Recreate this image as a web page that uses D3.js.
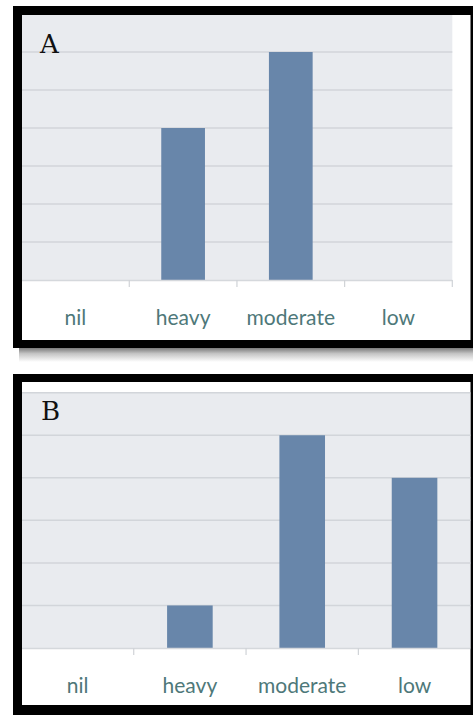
<!DOCTYPE html>
<html>
<head>
<meta charset="utf-8">
<script src="https://cdn.jsdelivr.net/npm/d3@7"></script>
<style>
  html, body { margin: 0; padding: 0; background: #ffffff; }
  svg { display: block; }
</style>
</head>
<body>
<svg id="chart" width="473" height="715"></svg>
<script>
// ---- data ----
const categories = ["nil", "heavy", "moderate", "low"];
const valuesA = [0, 4, 6, 0];
const valuesB = [0, 1, 5, 4];
const panelLabels = ["A", "B"];
const yMaxA = 7;
const yMaxB = 6;

const svg = d3.select("#chart");

const defs = svg.append("defs");
const grad = defs.append("linearGradient").attr("id", "shadow").attr("x1", 0).attr("y1", 0).attr("x2", 0).attr("y2", 1);
grad.append("stop").attr("offset", "0%").attr("stop-color", "#7a7a7a");
grad.append("stop").attr("offset", "40%").attr("stop-color", "#c4c4c4");
grad.append("stop").attr("offset", "100%").attr("stop-color", "#ffffff");

function panel(cfg) {
  const g = svg.append("g");
  // shadow
  if (cfg.shadow) {
    g.append("rect").attr("x", cfg.outer.x + 6).attr("y", cfg.outer.y + cfg.outer.h)
      .attr("width", cfg.outer.w - 6).attr("height", 14).attr("fill", "url(#shadow)");
  }
  // black frame
  g.append("rect").attr("x", cfg.outer.x).attr("y", cfg.outer.y)
    .attr("width", cfg.outer.w).attr("height", cfg.outer.h).attr("fill", "#000");
  g.append("rect").attr("x", cfg.inner.x).attr("y", cfg.inner.y)
    .attr("width", cfg.inner.w).attr("height", cfg.inner.h).attr("fill", "#fff");

  const clipId = "clip" + cfg.label;
  defs.append("clipPath").attr("id", clipId).append("rect")
    .attr("x", cfg.inner.x).attr("y", cfg.inner.y).attr("width", cfg.inner.w).attr("height", cfg.inner.h);
  const c = g.append("g").attr("clip-path", `url(#${clipId})`);

  const x = d3.scaleBand().domain(categories).range([cfg.x0, cfg.x1]).paddingInner(0.594).paddingOuter(0.297);
  const y = d3.scaleLinear().domain([0, cfg.yMax]).range([cfg.base, cfg.top]);

  // plot background
  c.append("rect").attr("x", cfg.x0).attr("y", Math.max(y(cfg.yMax), cfg.inner.y))
    .attr("width", cfg.x1 - cfg.x0).attr("height", cfg.base - Math.max(y(cfg.yMax), cfg.inner.y))
    .attr("fill", "#e9ebef");

  // gridlines
  const ticks = d3.range(1, cfg.yMax + 1);
  c.append("g").selectAll("line").data(ticks).join("line")
    .attr("x1", cfg.x0).attr("x2", cfg.x1)
    .attr("y1", d => y(d)).attr("y2", d => y(d))
    .attr("stroke", "#d2d5da").attr("stroke-width", 1.5);

  // bars
  c.append("g").selectAll("rect").data(cfg.values.map((v, i) => ({ c: categories[i], v })).filter(d => d.v > 0))
    .join("rect")
    .attr("x", d => x(d.c)).attr("width", x.bandwidth())
    .attr("y", d => y(d.v)).attr("height", d => y(0) - y(d.v))
    .attr("fill", "#6886aa");

  // baseline
  c.append("line").attr("x1", cfg.x0).attr("x2", cfg.x1).attr("y1", cfg.base + 0.5).attr("y2", cfg.base + 0.5)
    .attr("stroke", "#d5d8dc").attr("stroke-width", 1.5);

  // boundary ticks
  const bounds = categories.slice(1).map(d => x(d) - x.step() * x.paddingInner() / 2);
  if (cfg.endTick) bounds.push(cfg.x1);
  c.append("g").selectAll("line").data(bounds).join("line")
    .attr("x1", d => d).attr("x2", d => d)
    .attr("y1", cfg.base).attr("y2", cfg.base + 7)
    .attr("stroke", "#d0d3d7").attr("stroke-width", 1.2);

  // category labels via axis
  const axis = d3.axisBottom(x).tickSize(0).tickPadding(0);
  const ag = c.append("g").attr("transform", `translate(0,${cfg.labelBase})`).call(axis);
  ag.select(".domain").remove();
  ag.selectAll("text")
    .attr("dy", 0).attr("y", 0)
    .attr("font-family", "Lato, 'Open Sans', sans-serif")
    .attr("font-size", 21).attr("fill", "#4e7879");

  // panel letter
  c.append("text").attr("x", cfg.letterX).attr("y", cfg.letterY)
    .attr("font-family", "'DejaVu Serif', serif").attr("font-size", 26)
    .attr("fill", "#111").text(cfg.label);
}

panel({
  label: panelLabels[0], values: valuesA, yMax: yMaxA,
  outer: { x: 13, y: 6, w: 460, h: 342 },
  inner: { x: 22, y: 15, w: 448.5, h: 325 },
  x0: 21.6, x1: 452.3, base: 280, top: 14,
  labelBase: 325, letterX: 40, letterY: 52.5, endTick: true, shadow: true
});

panel({
  label: panelLabels[1], values: valuesB, yMax: yMaxB,
  outer: { x: 13, y: 374, w: 460, h: 341 },
  inner: { x: 22, y: 382, w: 448.5, h: 323 },
  x0: 21.4, x1: 470.7, base: 648, top: 392.7,
  labelBase: 693, letterX: 41, letterY: 420, endTick: false, shadow: false
});
</script>
</body>
</html>
